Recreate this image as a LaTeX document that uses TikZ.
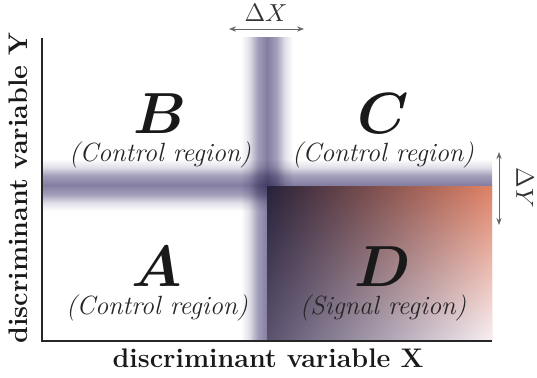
\documentclass[tikz,border=0pt]{standalone}
\usepackage{amsmath}
\usetikzlibrary{arrows.meta, positioning, fadings}
% scalable bold math italic for the big region letters
\DeclareFontShape{OML}{cmm}{b}{it}{<->cmmib10}{}
\DeclareFontShape{OML}{cmm}{m}{it}{<->cmmi10}{}
\definecolor{bandc}{RGB}{132,126,162}
\definecolor{dnavy}{RGB}{40,35,58}
\definecolor{dmid}{RGB}{135,84,96}
\definecolor{dorange}{RGB}{224,130,102}
\definecolor{dlowl}{RGB}{92,82,112}
\definecolor{dlowm}{RGB}{198,176,190}
\definecolor{dlowr}{RGB}{248,240,244}
% soft bands (bbox maps to 25bp..75bp)
\pgfdeclarehorizontalshading{vband}{100bp}{color(0bp)=(white); color(25bp)=(white); color(33bp)=(bandc!25); color(41bp)=(bandc!75); color(50bp)=(bandc); color(59bp)=(bandc!75); color(67bp)=(bandc!25); color(75bp)=(white); color(100bp)=(white)}
\pgfdeclareverticalshading{hband}{100bp}{color(0bp)=(white); color(25bp)=(white); color(33bp)=(bandc!25); color(41bp)=(bandc!75); color(50bp)=(bandc); color(59bp)=(bandc!75); color(67bp)=(bandc!25); color(75bp)=(white); color(100bp)=(white)}

\begin{document}
\begin{tikzpicture}[
		% pixel grid of the reference
		x=0.02cm, y=-0.02cm,
		% styles
		axis/.style={line width=1.2pt, black!85},
		span/.style={{Stealth[length=4pt, width=3pt]}-{Stealth[length=4pt, width=3pt]}, line width=0.5pt, black!60},
		letter/.style={font=\fontsize{33}{33}\selectfont\boldmath, text=black!90, inner sep=0pt},
		region/.style={font=\fontsize{15}{15}\selectfont\itshape, text=black!85, inner sep=0pt},
		axlabel/.style={font=\fontsize{15.3}{16}\selectfont\bfseries, text=black!90, inner sep=0pt},
		delta/.style={font=\fontsize{14}{14}\selectfont, text=black!80, inner sep=0pt}
		]
		\useasboundingbox (0,0) rectangle (537,378);
		
		% ==========================================
		% Axes corners
		% ==========================================
		\coordinate (O) at (42,341);
		\coordinate (xend) at (492,341);
		\coordinate (yend) at (42,38);
		
		% ==========================================
		% Blurred cut bands
		% ==========================================
		\shade[shading=vband] (241,38) rectangle (293,341);
		\begin{scope}[blend mode=multiply]
			\shade[shading=hband] (42,159) rectangle (492,211);
		\end{scope}
		
		% ==========================================
		% Signal region D
		% ==========================================
		\shade[left color=dnavy, middle color=dmid, right color=dorange] (267,187) rectangle (492,341);
		\shade[left color=dlowl, middle color=dlowm, right color=dlowr, path fading=north] (267,187) rectangle (492,341);
		
		% axes
		\draw[axis] (yend) -- (O) -- (xend);
		
		% ==========================================
		% Region labels
		% ==========================================
		\node[letter] (lblB) at (160,114) {$B$};
		\node[region, below=4pt of lblB] (regB) {(Control region)};
		
		\node[letter] (lblC) at (383,114) {$C$};
		\node[region, below=4pt of lblC] (regC) {(Control region)};
		
		\node[letter] (lblA) at (157,267) {$A$};
		\node[region, below=4pt of lblA] (regA) {(Control region)};
		
		\node[letter] (lblD) at (383,267) {$D$};
		\node[region, below=4pt of lblD] (regD) {(Signal region)};
		
		% ==========================================
		% Band widths
		% ==========================================
		\coordinate (dxl) at (229,29);
		\coordinate (dxr) at (304,29);
		\draw[span] (dxl) -- (dxr);
		\node[delta] (dxlab) at (266,13) {$\Delta X$};
		
		\coordinate (dyt) at (499,152);
		\coordinate (dyb) at (499,225);
		\draw[span] (dyt) -- (dyb);
		\node[delta, rotate=-90] (dylab) at (525,188) {$\Delta Y$};
		
		% axis titles
		\node[axlabel] (xlab) at (268,358) {discriminant variable X};
		\node[axlabel, rotate=90] (ylab) at (18,188) {discriminant variable Y};
		
	\end{tikzpicture}
\end{document}
